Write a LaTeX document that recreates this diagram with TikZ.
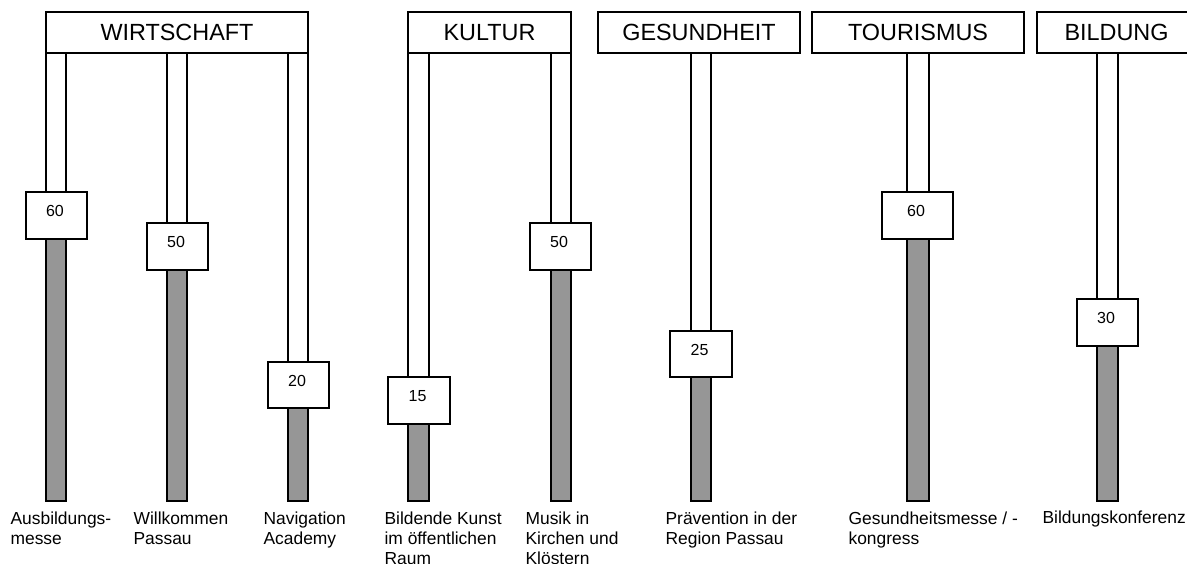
\documentclass[tikz,border=0pt]{standalone}
\usepackage{fontspec}
\setmainfont{Liberation Sans}
\usetikzlibrary{calc}
\definecolor{bargray}{RGB}{150,150,150}
\begin{document}
\begin{tikzpicture}[x=0.5pt,y=-0.5pt,
  line width=0.6pt,
  header/.style={draw,fill=white,minimum height=20.5pt,inner sep=0pt,font=\fontsize{11.7pt}{14pt}\selectfont},
  valbox/.style={draw,fill=white,inner sep=0pt},
  valtext/.style={inner sep=0pt,font=\fontsize{8pt}{9.6pt}\selectfont},
  lbl/.style={anchor=north west,inner sep=0pt,align=left,font=\fontsize{8.7pt}{9.9pt}\selectfont},
  barframe/.style={draw,fill=white},
  barfill/.style={draw,fill=bargray}]
\useasboundingbox (0,0) rectangle (1187,563);

% bars and value boxes
\foreach \n/\xa/\xb/\bl/\br/\bt/\bb/\v in {
  w1/46/66/26/87/192/239/60,
  w2/167/187/147/208/223/270/50,
  w3/288/308/268/329/362/408/20,
  k1/408/429/388/450/377/424/15,
  k2/551/571/530/591/223/270/50,
  g1/691/711/670/732/331/377/25,
  t1/907/929/882/953/192/239/60,
  b1/1097/1118/1077/1138/299/346/30}{
  \draw[barframe] (\xa,53) rectangle (\xb,501);
  \draw[barfill] (\xa,\bb) rectangle (\xb,501);
  \node[valbox,minimum width={(\br-\bl)*0.5pt},minimum height={(\bb-\bt)*0.5pt}]
     (\n) at ({(\bl+\br)/2},{(\bt+\bb)/2}) {};
  \node[valtext] (\n t) at ($(\n.north)+(-1.5,20)$) {\v};
}

% headers
\node[header,minimum width=131pt] (hw) at (177,32.5) {WIRTSCHAFT};
\node[header,minimum width=81.5pt] (hk) at (489.5,32.5) {KULTUR};
\node[header,minimum width=101pt] (hg) at (699,32.5) {GESUNDHEIT};
\node[header,minimum width=106pt] (ht) at (918,32.5) {TOURISMUS};
\node[header,minimum width=79.5pt] (hb) at (1116.5,32.5) {BILDUNG};

% labels
\node[lbl] (l1) at (10,511.5) {Ausbildungs-\\messe};
\node[lbl] (l2) at (133,511.5) {Willkommen\\Passau};
\node[lbl] (l3) at (263,511.5) {Navigation\\Academy};
\node[lbl] (l4) at (384,511.5) {Bildende Kunst\\im öffentlichen\\Raum};
\node[lbl] (l5) at (525,511.5) {Musik in\\Kirchen und\\Klöstern};
\node[lbl] (l6) at (665,511.5) {Prävention in der\\Region Passau};
\node[lbl] (l7) at (848,511.5) {Gesundheitsmesse / -\\kongress};
\node[lbl] (l8) at (1042,510) {Bildungskonferenz};
\end{tikzpicture}
\end{document}
